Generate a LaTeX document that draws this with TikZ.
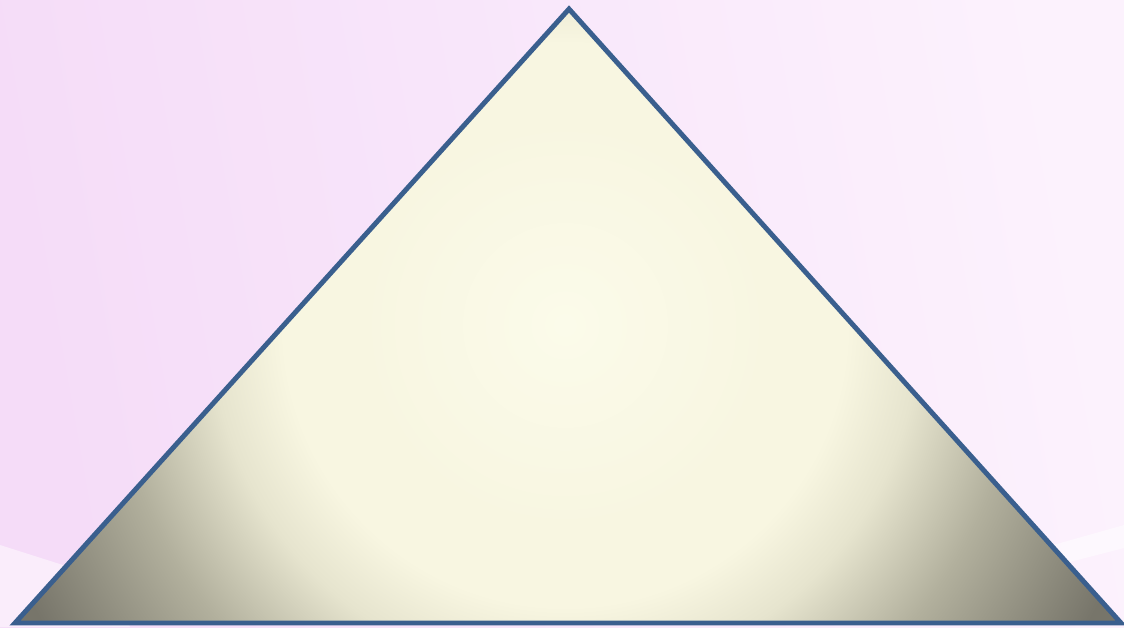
\documentclass[tikz,border=0pt]{standalone}
\usepackage{xcolor}
\usepackage{tikz}
\definecolor{bgleft}{HTML}{F5DCF8}
\definecolor{bgright}{HTML}{FCF2FD}
\definecolor{edgeblue}{HTML}{3A5F8E}
\definecolor{creamcore}{HTML}{FBFBEA}
\definecolor{creamlight}{HTML}{F8F6E1}
\definecolor{creammid}{HTML}{E6E4CE}
\definecolor{stonemid}{HTML}{B2B09D}
\definecolor{stonedark}{HTML}{77756A}
\pgfdeclareradialshading{pyramidglow}{\pgfpoint{0bp}{0bp}}{%
  color(0bp)=(creamcore); color(8bp)=(creamlight); color(11bp)=(creamlight);
  color(13.8bp)=(creammid); color(17.8bp)=(stonemid); color(23.5bp)=(stonedark);
  color(50bp)=(stonedark)}

\begin{document}
\begin{tikzpicture}[
  x=0.02cm, y=-0.02cm,
  backdrop/.style={left color=bgleft,right color=bgright,shading angle=100},
  streak/.style={fill=white,opacity=0.5},
  outline/.style={draw=edgeblue,line width=2.8pt,line join=miter}
]
\useasboundingbox (0,0) rectangle (1124,627);
% background
\shade[backdrop] (0,0) rectangle (1124,627);
\fill[streak] (0,545) -- (110,580) -- (130,627) -- (0,627) -- cycle;
\fill[streak] (1124,525) -- (1000,560) -- (1000,580) -- (1124,548) -- cycle;
% triangle
\coordinate (apex) at (569,9);
\coordinate (left) at (15,623);
\coordinate (right) at (1121,623);
\begin{scope}
  \clip (apex) -- (left) -- (right) -- cycle;
  \shade[shading=pyramidglow] (565,325) circle[radius=640];
\end{scope}
\draw[outline] (apex) -- (left) -- (right) -- cycle;
\end{tikzpicture}
\end{document}
